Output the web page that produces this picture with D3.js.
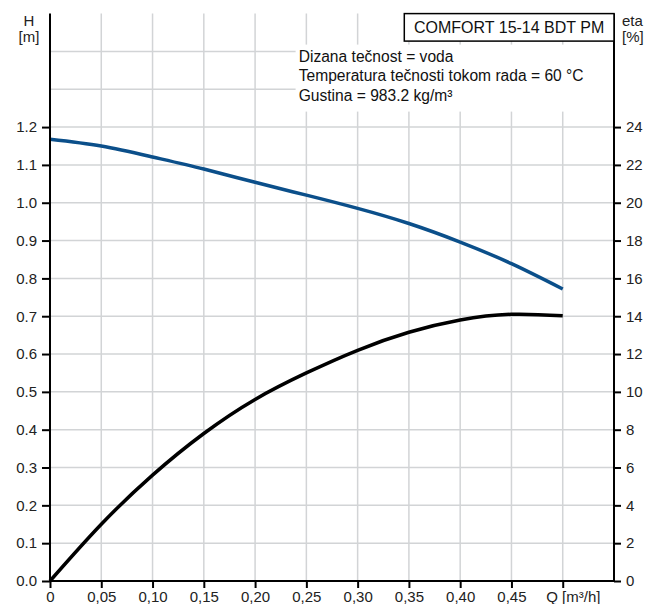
<!DOCTYPE html>
<html>
<head>
<meta charset="utf-8">
<script src="https://cdn.jsdelivr.net/npm/d3@7"></script>
<style>
  body { margin: 0; background: #fff; }
  svg { font-family: 'Liberation Sans', Arial, sans-serif; }
  .grid line { stroke: #d2d4d6; stroke-width: 1.5; }
  .axis path, .axis line { stroke: #000; stroke-width: 2; }
  .axis text { font-size: 15px; fill: #222; }
</style>
</head>
<body>
<div id="chart"></div>
<script>
// flow, head and efficiency
const flow = [0, 0.05, 0.10, 0.15, 0.20, 0.25, 0.30, 0.35, 0.40, 0.45, 0.50]
const head = [1.168, 1.150, 1.121, 1.089, 1.054, 1.020, 0.985, 0.945, 0.896, 0.839, 0.772]
const eta = [0, 3.0, 5.6, 7.8, 9.6, 11.0, 12.2, 13.15, 13.8, 14.1, 14.02]

const xTicks = [0, 0.05, 0.10, 0.15, 0.20, 0.25, 0.30, 0.35, 0.40, 0.45, 0.50]
const xTickLabels = ['0', '0,05', '0,10', '0,15', '0,20', '0,25', '0,30', '0,35', '0,40', '0,45', 'Q [m³/h]']
const hTicks = [0, 0.1, 0.2, 0.3, 0.4, 0.5, 0.6, 0.7, 0.8, 0.9, 1.0, 1.1, 1.2]
const hGrid = [0.1, 0.2, 0.3, 0.4, 0.5, 0.6, 0.7, 0.8, 0.9, 1.0, 1.1, 1.2, 1.3, 1.4]
const etaTicks = [0, 2, 4, 6, 8, 10, 12, 14, 16, 18, 20, 22, 24]

const infoLines = [
  'Dizana tečnost = voda',
  'Temperatura tečnosti tokom rada = 60 °C',
  'Gustina = 983.2 kg/m³'
]
const title = 'COMFORT 15-14 BDT PM'

const margin = { top: 13.6, right: 34, bottom: 23, left: 50 }
const totalWidth = 648
const totalHeight = 604
const width = totalWidth - margin.left - margin.right
const height = totalHeight - margin.top - margin.bottom

const svg = d3
  .select('#chart')
  .append('svg')
  .attr('width', totalWidth)
  .attr('height', totalHeight)
  .append('g')
  .attr('transform', 'translate(' + margin.left + ',' + margin.top + ')')

const x = d3.scaleLinear().domain([0, 0.55]).range([0, width])
const yH = d3.scaleLinear().domain([0, 1.5]).range([height, 0])
const yEta = d3.scaleLinear().domain([0, 30]).range([height, 0])

// grid
const grid = svg.append('g').attr('class', 'grid')
grid
  .selectAll('.v')
  .data(xTicks.slice(1))
  .enter()
  .append('line')
  .attr('x1', d => x(d))
  .attr('x2', d => x(d))
  .attr('y1', 0)
  .attr('y2', height)
grid
  .selectAll('.h')
  .data(hGrid)
  .enter()
  .append('line')
  .attr('x1', 0)
  .attr('x2', width)
  .attr('y1', d => yH(d))
  .attr('y2', d => yH(d))

// white panel behind the fluid info
svg
  .append('rect')
  .attr('x', x(0.2395))
  .attr('y', 31)
  .attr('width', width - x(0.2395))
  .attr('height', 67)
  .attr('fill', '#fff')

svg
  .selectAll('.info')
  .data(infoLines)
  .enter()
  .append('text')
  .attr('x', x(0.2425))
  .attr('y', (d, i) => 48 + i * 19.6)
  .attr('font-size', 15.6)
  .attr('fill', '#111')
  .text(d => d)

// curves
const line = d3.line().curve(d3.curveNatural)

svg
  .append('path')
  .datum(flow.map((q, i) => [x(q), yH(head[i])]))
  .attr('d', line)
  .attr('fill', 'none')
  .attr('stroke', '#0b4f8a')
  .attr('stroke-width', 3.5)

svg
  .append('path')
  .datum(flow.map((q, i) => [x(q), yEta(eta[i])]))
  .attr('d', line)
  .attr('fill', 'none')
  .attr('stroke', '#000')
  .attr('stroke-width', 3.5)

// axes
const xAxis = d3
  .axisBottom(x)
  .tickValues(xTicks)
  .tickSize(7)
  .tickPadding(3)
  .tickFormat((d, i) => xTickLabels[i])

svg
  .append('g')
  .attr('class', 'axis x-axis')
  .attr('transform', 'translate(0,' + height + ')')
  .call(xAxis)
svg.select('.x-axis .domain').attr('d', 'M0,0H' + width)
svg
  .selectAll('.x-axis .tick text')
  .filter((d, i) => i === xTicks.length - 1)
  .attr('text-anchor', 'start')
  .attr('dx', -17)

const leftAxis = d3
  .axisLeft(yH)
  .tickValues(hTicks)
  .tickSize(8)
  .tickPadding(5)
  .tickFormat(d3.format('.1f'))

svg
  .append('g')
  .attr('class', 'axis y-axis')
  .call(leftAxis)
svg.select('.y-axis .domain').attr('d', 'M0,0V' + height)

const rightAxis = d3
  .axisRight(yEta)
  .tickValues(etaTicks)
  .tickSize(7)
  .tickPadding(5)
  .tickFormat(d3.format('d'))

svg
  .append('g')
  .attr('class', 'axis eta-axis')
  .attr('transform', 'translate(' + width + ',0)')
  .call(rightAxis)
svg.select('.eta-axis .domain').attr('d', 'M0,0V' + height)

// title box
svg
  .append('rect')
  .attr('x', x(0.3455))
  .attr('y', 0)
  .attr('width', width - x(0.3455))
  .attr('height', 27.5)
  .attr('fill', '#fff')
  .attr('stroke', '#000')
  .attr('stroke-width', 1.5)

svg
  .append('text')
  .attr('x', (x(0.3455) + width) / 2)
  .attr('y', 19)
  .attr('text-anchor', 'middle')
  .attr('font-size', 16)
  .attr('fill', '#111')
  .text(title)

// axis titles
const hTitle = svg
  .append('text')
  .attr('text-anchor', 'middle')
  .attr('font-size', 15)
  .attr('fill', '#222')
hTitle.append('tspan').attr('x', -21).attr('y', 12.5).text('H')
hTitle.append('tspan').attr('x', -21).attr('y', 28).text('[m]')

const etaTitle = svg
  .append('text')
  .attr('font-size', 15)
  .attr('fill', '#222')
etaTitle.append('tspan').attr('x', width + 8).attr('y', 12.5).text('eta')
etaTitle.append('tspan').attr('x', width + 8).attr('y', 28).text('[%]')
</script>
</body>
</html>
